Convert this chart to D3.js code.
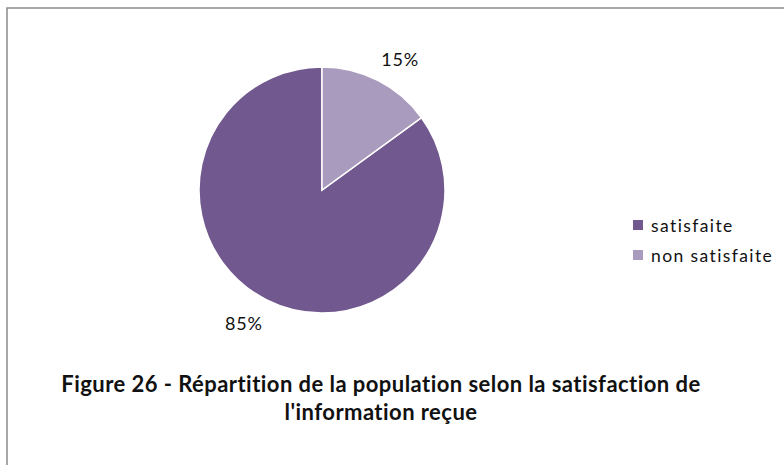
<!DOCTYPE html>
<html lang="fr">
  <head>
    <meta charset="utf-8">
    <title>Figure 26</title>
    <style>
      body { margin: 0; background: #fff; }
      svg { display: block; font-family: Lato, "Open Sans", sans-serif; }
      .pct { font-size: 18px; fill: #111; letter-spacing: 0.8px; }
      .legend text { font-size: 17.5px; fill: #111; letter-spacing: 1.4px; }
      .caption { font-size: 22px; font-weight: bold; fill: #111; letter-spacing: 0.45px; }
    </style>
  </head>
  <body>
    <svg id="chart" width="784" height="465"></svg>
    <script src="https://d3js.org/d3.v7.min.js"></script>
    <script>
      const categories = ["satisfaite", "non satisfaite"];
      const values = [85, 15];
      const colors = ["#71588f", "#a99bbd"];
      const caption = ["Figure 26 - Répartition de la population selon la satisfaction de",
                       "l'information reçue"];

      const svg = d3.select("#chart");
      const cx = 322, cy = 190, r = 123;

      // frame (only top and left edges show)
      svg.append("path")
        .attr("d", "M7,465V8H784")
        .attr("fill", "none")
        .attr("stroke", "#8a8a8a")
        .attr("stroke-width", 1.5);

      const data = categories.map((c, i) => ({name: c, value: values[i]}));
      const color = d3.scaleOrdinal().domain(categories).range(colors);

      const pie = d3.pie().value(d => d.value).sort(null)
        .startAngle(2 * Math.PI * 0.15).endAngle(2 * Math.PI * 1.15);
      const arcs = pie(data);
      const arc = d3.arc().innerRadius(0).outerRadius(r);
      const labelArc = d3.arc().innerRadius(148).outerRadius(148);

      const g = svg.append("g").attr("transform", `translate(${cx},${cy})`);

      g.selectAll("path.slice").data(arcs).enter().append("path")
        .attr("class", "slice")
        .attr("d", arc)
        .attr("fill", d => color(d.data.name))
        .attr("stroke", "#fff")
        .attr("stroke-width", 1.5);

      g.selectAll("text.pct").data(arcs).enter().append("text")
        .attr("class", "pct")
        .attr("x", d => {
          const [x] = labelArc.centroid(d);
          return x + (x > 0 ? 11 : -11);
        })
        .attr("y", d => labelArc.centroid(d)[1] + 1)
        .attr("text-anchor", "middle")
        .attr("dominant-baseline", "central")
        .text(d => d3.format(".0%")(d.data.value / d3.sum(values)));

      const legend = svg.append("g").attr("class", "legend")
        .attr("transform", "translate(633,220)");
      const item = legend.selectAll("g").data(categories).enter().append("g")
        .attr("transform", (d, i) => `translate(0,${i * 30})`);
      item.append("rect").attr("width", 10).attr("height", 10)
        .attr("fill", d => color(d));
      item.append("text").attr("x", 18).attr("y", 5)
        .attr("dominant-baseline", "central")
        .text(d => d);

      svg.selectAll("text.caption").data(caption).enter().append("text")
        .attr("class", "caption")
        .attr("x", 381)
        .attr("y", (d, i) => 392 + i * 28)
        .attr("text-anchor", "middle")
        .text(d => d);
    </script>
  </body>
</html>
